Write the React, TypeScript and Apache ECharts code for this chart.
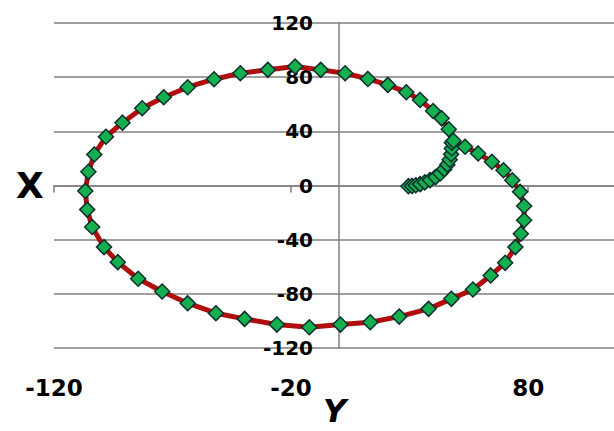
import React, { useEffect, useRef } from "react";
import * as echarts from "echarts";

// Horizontal axis ("Y") and vertical axis ("X") values of the trajectory, in order
const yValues = [
  29.5, 31.0, 32.6, 34.4, 36.4, 38.6, 40.9, 42.9, 44.6, 45.9, 46.9, 47.5, 47.8, 47.8,
  46.5, 43.5, 39.9, 34.4, 28.6, 20.8, 12.4, 2.8, -7.5, -18.3, -29.8, -41.4, -52.5,
  -63.6, -73.7, -82.8, -91.1, -98.1, -103.0, -105.5, -106.8, -106.0, -103.9, -98.9,
  -93.1, -84.5, -74.4, -63.6, -51.7, -39.6, -26.0, -12.3, 0.8, 13.4, 25.6, 38.0, 47.6,
  56.7, 64.2, 70.3, 74.6, 76.9, 78.3, 78.3, 76.6, 73.3, 69.6, 64.7, 58.9, 53.4, 48.5,
];
const xValues = [
  -0.5, -0.3, 0.2, 1.0, 2.3, 4.0, 6.2, 8.9, 12.0, 15.4, 19.0, 23.0, 27.3, 31.6,
  41.5, 49.6, 55.0, 63.2, 68.9, 74.3, 78.7, 82.9, 85.4, 87.9, 85.4, 82.9, 78.5,
  72.6, 65.2, 57.0, 46.4, 36.0, 22.9, 10.1, -4.0, -17.8, -30.6, -45.5,
  -56.6, -68.9, -78.3, -86.9, -94.3, -98.5, -102.7, -104.7, -102.7, -101.0, -96.8, -91.1, -83.7,
  -76.8, -66.4, -57.1, -45.5, -35.6, -25.7, -15.1, -4.7, 3.9, 11.3, 17.5, 23.7, 28.6, 33.0,
];
const horizontalTicks = [-120, -20, 80];
const verticalTicks = [-120, -80, -40, 0, 40, 80, 120];
const horizontalTitle = "Y";
const verticalTitle = "X";

export default function App() {
  const ref = useRef<HTMLDivElement>(null);
  useEffect(() => {
    if (!ref.current) return;
    const chart = echarts.init(ref.current, null, { renderer: "svg" });
    const points = yValues.map((v, i) => [v, xValues[i]]);
    const gray = "#808080";
    chart.setOption({
      animation: false,
      backgroundColor: "#ffffff",
      grid: { left: 54, top: 23, height: 325, width: 569, containLabel: false, outerBoundsMode: "none" },
      xAxis: {
        type: "value",
        min: -120,
        max: 120,
        axisLine: { show: true, onZero: true, lineStyle: { color: gray, width: 1.5 } },
        axisTick: { show: true, length: 7, customValues: horizontalTicks, lineStyle: { color: gray, width: 1.5 } },
        axisLabel: {
          customValues: horizontalTicks,
          margin: 28,
          fontFamily: "DejaVu Sans",
          fontWeight: "bold",
          fontSize: 23,
          color: "#000",
        },
        splitLine: { show: false },
      },
      yAxis: {
        type: "value",
        min: -120,
        max: 120,
        interval: 40,
        axisLine: { show: true, onZero: true, lineStyle: { color: gray, width: 1.5 } },
        axisTick: { show: false },
        axisLabel: {
          margin: -259,
          fontFamily: "DejaVu Sans",
          fontWeight: "bold",
          fontSize: 20,
          color: "#000",
          formatter: (v: number) => (verticalTicks.includes(v) ? String(v) : ""),
        },
        splitLine: { show: true, lineStyle: { color: gray, width: 1.5 } },
      },
      graphic: [
        {
          type: "text",
          left: 16,
          top: 167,
          style: {
            text: verticalTitle,
            fontFamily: "DejaVu Sans",
            fontWeight: "bold",
            fontSize: 36,
            fill: "#000",
          },
        },
        {
          type: "text",
          left: 323,
          top: 395,
          style: {
            text: horizontalTitle,
            fontFamily: "DejaVu Sans",
            fontWeight: "bold",
            fontStyle: "italic",
            fontSize: 32,
            fill: "#000",
          },
        },
      ],
      series: [
        {
          type: "line",
          data: points,
          symbol: "diamond",
          symbolSize: 15,
          lineStyle: { color: "#b00d0d", width: 5 },
          itemStyle: { color: "#14b050", borderColor: "#0c2e2e", borderWidth: 1.5 },
          clip: false,
        },
      ],
    });
    return () => chart.dispose();
  }, []);
  return (
    <div style={{ position: "fixed", left: 0, top: 0, width: 614, height: 431, overflow: "hidden", background: "#fff" }}>
      <div ref={ref} style={{ width: 614, height: 431 }} />
    </div>
  );
}
